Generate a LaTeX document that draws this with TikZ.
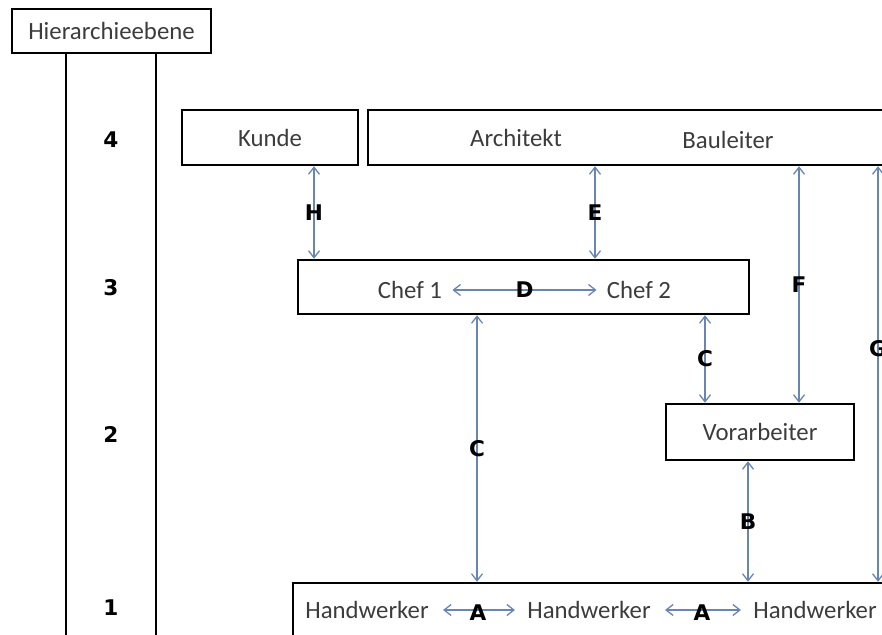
\documentclass[tikz,border=0pt]{standalone}
\usepackage{fontspec}
\setmainfont{Carlito}
\newfontfamily\lblfont{DejaVu Sans}
\usetikzlibrary{arrows.meta}
\definecolor{linkblue}{RGB}{104,134,178}
\definecolor{txtgray}{RGB}{60,60,60}

\begin{document}
\begin{tikzpicture}[x=0.5pt, y=-0.5pt,
  box/.style={draw, line width=1.25pt, inner sep=0pt, text=txtgray, font=\fontsize{12.4}{15}\selectfont},
  word/.style={text=txtgray, inner sep=3pt, font=\fontsize{12.4}{15}\selectfont},
  lbl/.style={inner sep=0pt, text=black, font=\lblfont\bfseries\fontsize{10.8}{12}\selectfont},
  arrow/.style={{Straight Barb[length=3.5pt,width=5.5pt]}-{Straight Barb[length=3.5pt,width=5.5pt]}, line width=0.65pt, linkblue}]
  \useasboundingbox (0,0) rectangle (882,635);
  \clip (0,0) rectangle (882,635);
  % level column
  \node[box, minimum width=99.5pt, minimum height=22pt] (hier) at (111.5,31) {Hierarchieebene};
  \draw[line width=1pt] (hier.south -| 66,0) -- (66,640);
  \draw[line width=1pt] (hier.south -| 156,0) -- (156,640);
  \foreach \n/\y in {4/140, 3/288, 2/434, 1/608}
    \node[lbl] (lv\n) at (111,\y) {\n};
  % boxes
  \node[box, minimum width=88pt, minimum height=27.5pt] (kunde) at (270,137.5) {Kunde};
  \node[box, minimum width=291pt, minimum height=27.5pt] (arch) at (659,137.5) {};
  \node[box, minimum width=225.5pt, minimum height=27pt] (chef) at (523.5,287) {};
  \node[box, minimum width=94pt, minimum height=28pt] (vor) at (760,432) {Vorarbeiter};
  \node[box, minimum width=328.5pt, minimum height=48.5pt] (hand) at (621.5,631.5) {};
  % texts in the wide boxes
  \node[word] (architekt) at (516,138) {Architekt};
  \node[word] (bauleiter) at (728,140) {Bauleiter};
  \node[word] (chef1) at (410,290) {Chef 1};
  \node[word] (chef2) at (639,290) {Chef 2};
  \node[word] (hw1) at (367,610) {Handwerker};
  \node[word] (hw2) at (589,610) {Handwerker};
  \node[word] (hw3) at (815,610) {Handwerker};
  % horizontal links
  \draw[arrow, shorten <=2pt, shorten >=2pt] (chef1) -- node[lbl] {D} (chef2);
  \foreach \a/\b in {hw1/hw2, hw2/hw3}
    \draw[arrow, shorten <=4pt, shorten >=3pt] (\a) -- node[lbl, yshift=-1.5pt] {A} (\b);
  % vertical links
  \foreach \a/\b/\x/\l/\p in {kunde/chef/314/H/0.5, arch/chef/595/E/0.5, arch/vor/799/F/0.5,
      arch/hand/878/G/0.44, chef/hand/477/C/0.5, chef/vor/705/C/0.5, vor/hand/748/B/0.5}
    \draw[arrow] (\a.south -| \x,0) -- node[pos=\p, lbl] {\l} (\b.north -| \x,0);
\end{tikzpicture}
\end{document}
